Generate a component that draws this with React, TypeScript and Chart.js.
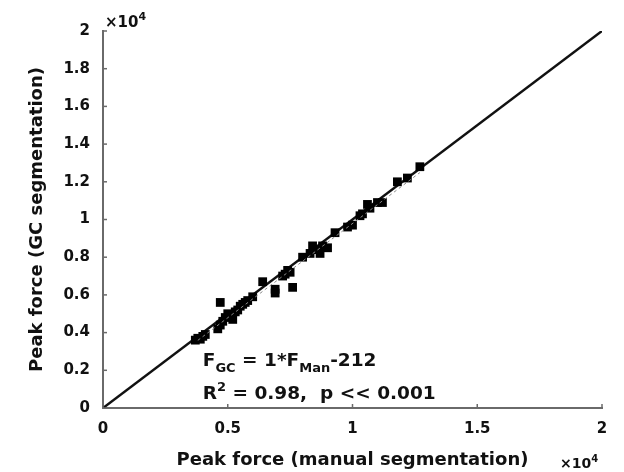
import React, { useEffect, useRef } from "react";
import { Chart, registerables } from "chart.js";

Chart.register(...registerables);

// Peak force, manual segmentation (N)
const manualForce = [
  3700, 3800, 3900, 4000, 4100,
  4600, 4700, 4700, 4800, 4900, 5000, 5100, 5200, 5300, 5400, 5500, 5600, 5700, 5800, 6000,
  6400, 6900, 6900, 7200, 7300, 7500, 7600, 7400,
  8000, 8300, 8400, 8600, 8700, 8800, 9000, 9300, 9800, 10000, 10300, 10400, 10600, 10700, 11000, 11200, 11800, 12200, 12700,
];
// Peak force, GC segmentation (N)
const gcForce = [
  3600, 3700, 3650, 3800, 3900,
  4200, 4400, 5600, 4600, 4800, 5000, 4900, 4700, 5100, 5200, 5400, 5500, 5600, 5700, 5900,
  6700, 6100, 6300, 7000, 7100, 7200, 6400, 7300,
  8000, 8200, 8600, 8400, 8200, 8600, 8500, 9300, 9600, 9700, 10200, 10300, 10800, 10600, 10900, 10900, 12000, 12200, 12800,
];
const identityLine = [0, 20000];
const fitSlope = 1;
const fitIntercept = -212;
const fitRange = [3800, 12700];
const xTicks = [0, 5000, 10000, 15000, 20000];
const yTicks = [0, 2000, 4000, 6000, 8000, 10000, 12000, 14000, 16000, 18000, 20000];
const fitLabel = "1*F";
const fitStats = " = 0.98,  p << 0.001";

const FONT = "'DejaVu Sans', sans-serif";

type Seg = { t: string; k: "b" | "sub" | "sup" };

function drawRich(ctx: CanvasRenderingContext2D, segs: Seg[], x: number, y: number, size: number) {
  let cx = x;
  for (const s of segs) {
    let fs = size;
    let dy = 0;
    if (s.k === "sub") { fs = Math.round(size * 0.72); dy = Math.round(size * 0.35); }
    if (s.k === "sup") { fs = Math.round(size * 0.72); dy = -Math.round(size * 0.45); }
    ctx.font = `bold ${fs}px ${FONT}`;
    ctx.fillText(s.t, cx, y + dy);
    cx += ctx.measureText(s.t).width;
  }
}

const decorPlugin = {
  id: "decor",
  afterDraw(chart: any) {
    const ctx = chart.ctx as CanvasRenderingContext2D;
    const xs = chart.scales.x;
    const ys = chart.scales.y;
    const area = chart.chartArea;
    ctx.save();
    // inner ticks
    ctx.strokeStyle = "#6a6a6a";
    ctx.lineWidth = 1.5;
    for (const v of yTicks) {
      const py = ys.getPixelForValue(v);
      ctx.beginPath();
      ctx.moveTo(area.left, py);
      ctx.lineTo(area.left + 4, py);
      ctx.stroke();
    }
    for (const v of xTicks) {
      const px = xs.getPixelForValue(v);
      ctx.beginPath();
      ctx.moveTo(px, area.bottom);
      ctx.lineTo(px, area.bottom - 4);
      ctx.stroke();
    }
    ctx.fillStyle = "#111";
    ctx.textBaseline = "alphabetic";
    ctx.textAlign = "left";
    // exponent labels
    drawRich(ctx, [{ t: "×10", k: "b" }, { t: "4", k: "sup" }], area.left + 2, area.top - 4, 15);
    drawRich(ctx, [{ t: "×10", k: "b" }, { t: "4", k: "sup" }], area.right - 42, 468, 14);
    // fit annotation
    const ax = xs.getPixelForValue(4000);
    drawRich(ctx, [
      { t: "F", k: "b" }, { t: "GC", k: "sub" }, { t: " = " + fitLabel, k: "b" },
      { t: "Man", k: "sub" }, { t: String(fitIntercept), k: "b" },
    ], ax, 366, 18.5);
    drawRich(ctx, [{ t: "R", k: "b" }, { t: "2", k: "sup" }, { t: fitStats, k: "b" }], ax, 399, 18.5);
    ctx.restore();
  },
};

export default function App() {
  const ref = useRef<HTMLCanvasElement | null>(null);
  useEffect(() => {
    if (!ref.current) return;
    const points = manualForce.map((x, i) => ({ x, y: gcForce[i] }));
    const fit = fitRange.map((x) => ({ x, y: fitSlope * x + fitIntercept }));
    const chart = new Chart(ref.current, {
      type: "scatter",
      data: {
        datasets: [
          {
            type: "line",
            data: identityLine.map((v) => ({ x: v, y: v })),
            borderColor: "#111",
            borderWidth: 2.5,
            pointRadius: 0,
            order: 2,
          } as any,
          {
            type: "line",
            data: fit,
            borderColor: "#8a8a8a",
            borderWidth: 1,
            borderDash: [3, 3],
            pointRadius: 0,
            order: 0,
          } as any,
          {
            data: points,
            pointStyle: "rect",
            pointRadius: 6.2,
            backgroundColor: "#000",
            borderColor: "#000",
            borderWidth: 0,
            order: 1,
          },
        ],
      },
      options: {
        responsive: false,
        animation: false,
        layout: { padding: { left: 0, top: 31, right: 22, bottom: 0 } },
        plugins: { legend: { display: false }, tooltip: { enabled: false } },
        scales: {
          x: {
            type: "linear",
            min: 0,
            max: 20000,
            afterBuildTicks: (s: any) => { s.ticks = xTicks.map((v) => ({ value: v })); },
            afterFit: (s: any) => { s.height = 64; },
            grid: { drawOnChartArea: false, drawTicks: false },
            border: { color: "#6a6a6a", width: 2 },
            ticks: {
              padding: 12,
              color: "#111",
              font: { family: FONT, size: 15, weight: "bold" },
              callback: (v: any) => String(Number(v) / 10000),
            },
            title: {
              display: true,
              text: "Peak force (manual segmentation)",
              color: "#111",
              font: { family: FONT, size: 18, weight: "bold" },
              padding: { top: 0, bottom: 1 },
            },
          },
          y: {
            type: "linear",
            min: 0,
            max: 20000,
            afterBuildTicks: (s: any) => { s.ticks = yTicks.map((v) => ({ value: v })); },
            afterFit: (s: any) => { s.width = 103; },
            grid: { drawOnChartArea: false, drawTicks: false },
            border: { color: "#6a6a6a", width: 2 },
            ticks: {
              padding: 13,
              color: "#111",
              font: { family: FONT, size: 15, weight: "bold" },
              callback: (v: any) => String(Number(v) / 10000),
            },
            title: {
              display: true,
              text: "Peak force (GC segmentation)",
              color: "#111",
              font: { family: FONT, size: 18, weight: "bold" },
              padding: { top: 27, bottom: 0 },
            },
          },
        },
      },
      plugins: [decorPlugin],
    });
    return () => chart.destroy();
  }, []);
  return (
    <div style={{ position: "fixed", left: 0, top: 0, width: 624, height: 472, background: "#fff" }}>
      <canvas ref={ref} width={624} height={472} />
    </div>
  );
}
